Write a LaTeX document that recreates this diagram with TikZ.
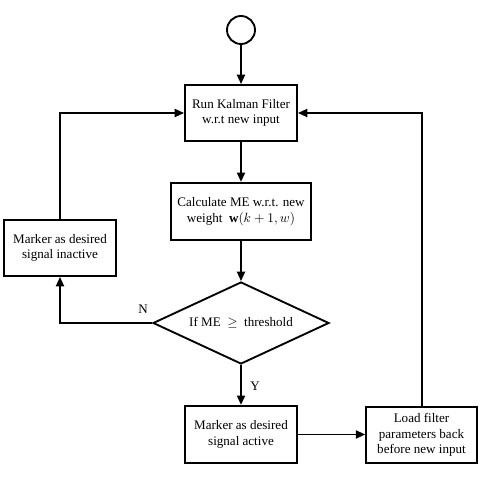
\documentclass[tikz,border=0pt]{standalone}
\usepackage{fontspec}
\setmainfont{Liberation Serif}
\usepackage{amsmath,amssymb}
\usetikzlibrary{arrows.meta,shapes.geometric}
\tikzset{>={Triangle[length=7pt,width=6pt]}}
\tikzset{%
    stepbox/.style={draw,line width=1.4pt,align=center,inner sep=2pt,
        font=\fontsize{9.8}{11.5}\selectfont},
    flow/.style={->,line width=1.4pt}
}
\begin{document}
\begin{tikzpicture}[x=0.75pt,y=-0.75pt]
    \useasboundingbox (0,0) rectangle (487,488);
%    start
    \node[draw,circle,line width=1.4pt,minimum size=21pt,inner sep=0pt](start) at (241,30) {};
    \node[stepbox,minimum width=84pt,minimum height=42pt](kalman) at (241,113) {Run Kalman Filter\\w.r.t new input};
    \node[stepbox,minimum width=105pt,minimum height=43pt](calc) at (241,211.5) {Calculate ME w.r.t. new\\weight \ $\mathbf{w}(k+1,w)$};
    \node[draw,diamond,line width=1.4pt,aspect=2.15,inner sep=0pt,minimum width=132pt,minimum height=61.5pt,
        font=\fontsize{9.8}{11.5}\selectfont](test) at (241,323) {If ME \ $\geq$ \ threshold};
    \node[stepbox,minimum width=84pt,minimum height=42pt](inactive) at (60,248) {Marker as desired\\signal inactive};
    \node[stepbox,minimum width=84pt,minimum height=43pt](active) at (241,434.5) {Marker as desired\\signal active};
    \node[stepbox,minimum width=83pt,minimum height=42pt](load) at (421.5,435) {Load filter\\parameters back\\before new input};
%    corners of the loops
    \coordinate (nturn) at (60,323);
    \coordinate (ntop) at (60,113);
    \coordinate (ltop) at (422,113);
    \draw[flow] (start) -- (kalman);
    \draw[flow] (kalman) -- (calc);
    \draw[flow] (calc) -- (test);
    \draw[flow] (test.west) -- (nturn) -- (inactive.south);
    \draw[flow] (inactive.north) -- (ntop) -- (kalman.west);
    \draw[flow] (test.south) -- (active.north);
    \draw[flow] (active.east) -- (active.east -| load.west);
    \draw[flow] (load.north -| ltop) -- (ltop) -- (kalman.east);
    \node[font=\fontsize{9.8}{11.5}\selectfont](nlabel) at (143,309) {N};
    \node[font=\fontsize{9.8}{11.5}\selectfont](ylabel) at (255,386) {Y};
\end{tikzpicture}
\end{document}
